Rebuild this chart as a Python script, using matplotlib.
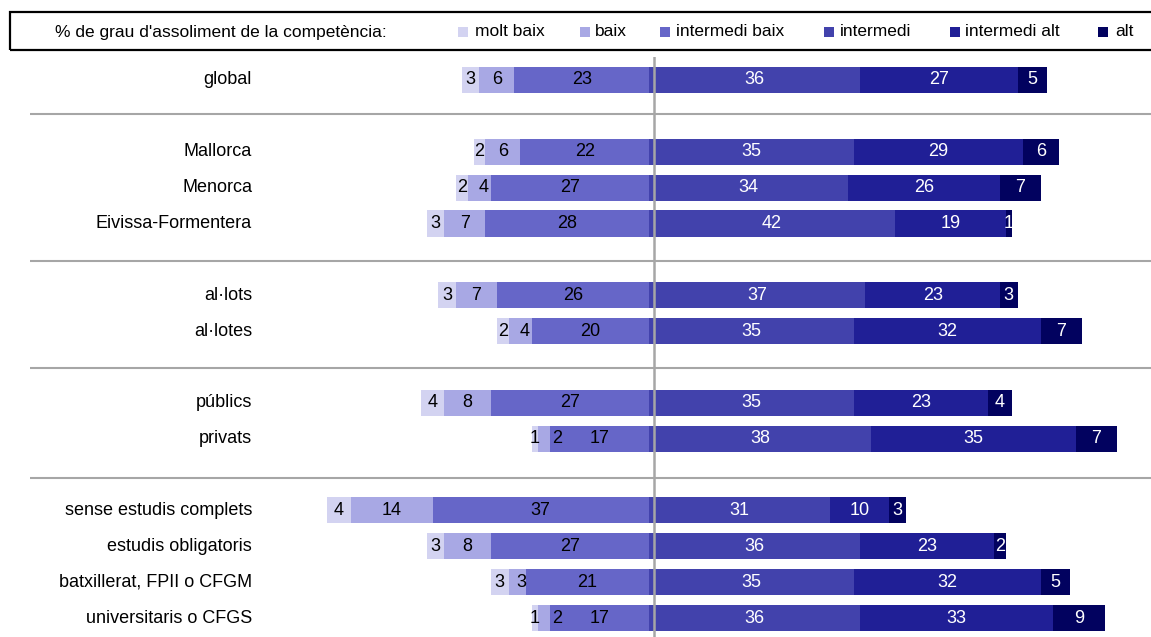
import matplotlib
matplotlib.use("Agg")
import matplotlib.pyplot as plt
from matplotlib.patches import Rectangle

plt.rcParams['font.family'] = ['Liberation Sans', 'DejaVu Sans']

categories = ["global", "Mallorca", "Menorca", "Eivissa-Formentera",
              "al·lots", "al·lotes", "públics", "privats",
              "sense estudis complets", "estudis obligatoris",
              "batxillerat, FPII o CFGM", "universitaris o CFGS"]
series = ["molt baix", "baix", "intermedi baix", "intermedi", "intermedi alt", "alt"]
molt_baix      = [3, 2, 2, 3, 3, 2, 4, 1, 4, 3, 3, 1]
baix           = [6, 6, 4, 7, 7, 4, 8, 2, 14, 8, 3, 2]
intermedi_baix = [23, 22, 27, 28, 26, 20, 27, 17, 37, 27, 21, 17]
intermedi      = [36, 35, 34, 42, 37, 35, 35, 38, 31, 36, 35, 36]
intermedi_alt  = [27, 29, 26, 19, 23, 32, 23, 35, 10, 23, 32, 33]
alt            = [5, 6, 7, 1, 3, 7, 4, 7, 3, 2, 5, 9]
legend_title = "% de grau d'assoliment de la competència:"

colors = ["#D3D3F1", "#A8A8E4", "#6666C8", "#4242AC", "#201F96", "#02025F"]

row_slots = [0, 2, 3, 4, 6, 7, 9, 10, 12, 13, 14, 15]
separator_slots = [0.95, 5.05, 8.03, 11.1]

W, H = 1151, 637
fig = plt.figure(figsize=(W / 100, H / 100), dpi=100)
ax_top = 57
ax = fig.add_axes([0, 0, 1, (H - ax_top) / H])
ppu = 5.85
x0 = 649
slot = 35.87
ax.set_xlim(-x0 / ppu, (W - x0) / ppu)
ax.set_ylim(15 + (H - 618) / slot, -(80 - ax_top) / slot)
ax.axis('off')

bar_h = 0.73
fs = 13
min_gap = 22 / ppu  # minimal spacing between neighbouring value labels
for i, y in enumerate(row_slots):
    # left side (drawn from the centre outward)
    left_vals = [intermedi_baix[i], baix[i], molt_baix[i]]
    left_cols = [colors[2], colors[1], colors[0]]
    pos = 0
    centers = []
    for v, c in zip(left_vals, left_cols):
        ax.barh(y, -v, left=-pos, height=bar_h, color=c, linewidth=0)
        centers.append(-pos - v / 2)
        pos += v
    # place labels from the outer end inward, keeping a minimal spacing
    lab_x = [None] * 3
    prev = None
    for k in (2, 1, 0):
        x = centers[k]
        if prev is not None and x < prev + min_gap:
            x = prev + min_gap
        lab_x[k] = x
        prev = x
    for k in range(3):
        ax.text(lab_x[k], y, str(left_vals[k]), ha='center', va='center',
                fontsize=fs, color='black')
    # right side
    right_vals = [intermedi[i], intermedi_alt[i], alt[i]]
    right_cols = [colors[3], colors[4], colors[5]]
    pos = 0
    for v, c in zip(right_vals, right_cols):
        ax.barh(y, v, left=pos, height=bar_h, color=c, linewidth=0)
        ax.text(pos + v / 2, y, str(v), ha='center', va='center',
                fontsize=fs, color='white')
        pos += v
    ax.text(-(x0 - 252) / ppu, y, categories[i], ha='right', va='center',
            fontsize=fs, color='black')

xmin, xmax = ax.get_xlim()
for s in separator_slots:
    ax.plot([(30 - x0) / ppu, xmax], [s, s], color='#A6A6A6', lw=1.5,
            solid_capstyle='butt')
ax.axvline(5 / ppu, color='#A6A6A6', lw=1.8)

# legend box
fig.patches.append(Rectangle((10 / W, 1 - 50 / H), (W + 20) / W, 38 / H,
                             transform=fig.transFigure, fill=False,
                             edgecolor='black', lw=1.6))
ly = 1 - 32 / H
fig.text(55 / W, ly, legend_title, ha='left', va='center', fontsize=12.5)
sq_x = [458, 580, 660, 824, 950, 1098]
tx_x = [475, 595, 676, 840, 965, 1115]
for name, c, sx, tx in zip(series, colors, sq_x, tx_x):
    fig.patches.append(Rectangle((sx / W, 1 - 37 / H), 10 / W, 10 / H,
                                 transform=fig.transFigure, color=c, lw=0))
    fig.text(tx / W, ly, name, ha='left', va='center', fontsize=12.5)

fig.savefig("out.png", dpi=100)
